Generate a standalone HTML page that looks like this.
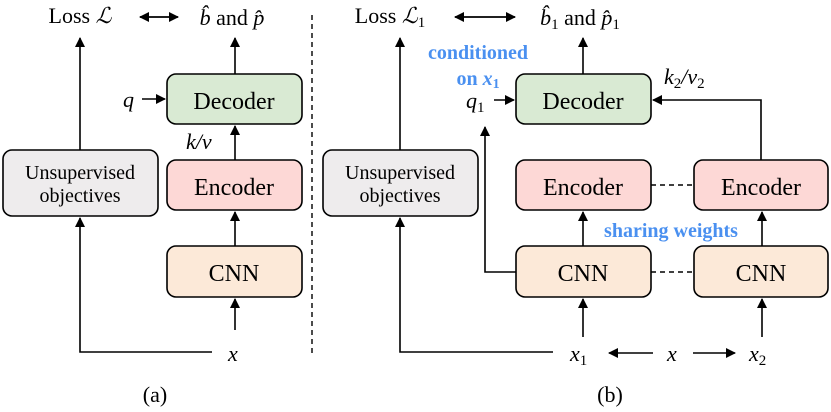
<!DOCTYPE html>
<html><head><meta charset="utf-8"><style>
html,body{margin:0;padding:0;background:#fff;width:831px;height:412px;overflow:hidden}
svg{display:block}
text{font-family:"Liberation Serif",serif;fill:#000}
.m{font-style:italic}
.b{font-weight:bold;fill:#4a90f0}
</style></head><body>
<svg width="831" height="412" viewBox="0 0 831 412" xmlns="http://www.w3.org/2000/svg">
<defs><marker id="a" markerWidth="10" markerHeight="10" refX="9" refY="5" orient="auto" markerUnits="userSpaceOnUse"><path d="M0,0 L10,5 L0,10 z" fill="#000"/></marker></defs>
<g stroke="#000" stroke-width="1.6" fill="none">
<rect x="3" y="150" width="155" height="66" rx="9" fill="#eeeced"/>
<rect x="167" y="74" width="135" height="50" rx="9" fill="#d9ead3"/>
<rect x="167" y="160" width="135" height="50" rx="9" fill="#fdd8d6"/>
<rect x="167" y="246" width="135" height="51" rx="9" fill="#fce9d8"/>
<path d="M80,150 V38" marker-end="url(#a)"/>
<path d="M212,352 H80 V218" marker-end="url(#a)"/>
<path d="M235,330 V299" marker-end="url(#a)"/>
<path d="M235,246 V212" marker-end="url(#a)"/>
<path d="M235,160 V126" marker-end="url(#a)"/>
<path d="M235,74 V38" marker-end="url(#a)"/>
<path d="M142,99 H165" marker-end="url(#a)"/>
<path d="M140,17 H178" marker-end="url(#a)"/>
<path d="M178,17 H140" marker-end="url(#a)"/>
<path d="M312,15 V357" stroke-dasharray="5,4" stroke-width="1.4"/>
<rect x="323" y="150" width="155" height="66" rx="9" fill="#eeeced"/>
<rect x="516" y="74" width="135" height="50" rx="9" fill="#d9ead3"/>
<rect x="516" y="160" width="135" height="50" rx="9" fill="#fdd8d6"/>
<rect x="694" y="160" width="134" height="50" rx="9" fill="#fdd8d6"/>
<rect x="516" y="246" width="135" height="51" rx="9" fill="#fce9d8"/>
<rect x="694" y="246" width="134" height="51" rx="9" fill="#fce9d8"/>
<path d="M651,185 H694" stroke-dasharray="5,4" stroke-width="1.4"/>
<path d="M651,272 H694" stroke-dasharray="5,4" stroke-width="1.4"/>
<path d="M400,150 V38" marker-end="url(#a)"/>
<path d="M553,352 H400 V218" marker-end="url(#a)"/>
<path d="M583,337 V299" marker-end="url(#a)"/>
<path d="M762,337 V299" marker-end="url(#a)"/>
<path d="M583,246 V212" marker-end="url(#a)"/>
<path d="M762,246 V212" marker-end="url(#a)"/>
<path d="M583,74 V38" marker-end="url(#a)"/>
<path d="M516,272 H485 V127" marker-end="url(#a)"/>
<path d="M494,100 H514" marker-end="url(#a)"/>
<path d="M761,160 V100 H653" marker-end="url(#a)"/>
<path d="M455,17 H515" marker-end="url(#a)"/>
<path d="M515,17 H455" marker-end="url(#a)"/>
<path d="M653,353 H609" marker-end="url(#a)"/>
<path d="M693,353 H735" marker-end="url(#a)"/>
</g>
<g font-size="22" text-anchor="middle">
<text x="80" y="23">Loss <tspan class="m">ℒ</tspan></text>
<text x="232" y="25"><tspan class="m">b̂</tspan> and <tspan class="m">p̂</tspan></text>
<text x="390" y="23">Loss <tspan class="m">ℒ</tspan><tspan font-size="15" dy="4">1</tspan></text>
<text x="580" y="25"><tspan class="m">b̂</tspan><tspan font-size="15" dy="4">1</tspan><tspan dy="-4"> and </tspan><tspan class="m">p̂</tspan><tspan font-size="15" dy="4">1</tspan></text>
<text x="155" y="402">(a)</text>
<text x="610" y="402">(b)</text>
</g>
<g font-size="24" text-anchor="middle">
<text x="234" y="109">Decoder</text>
<text x="234" y="195">Encoder</text>
<text x="234" y="281">CNN</text>
<text x="583" y="109">Decoder</text>
<text x="583" y="195">Encoder</text>
<text x="761" y="195">Encoder</text>
<text x="583" y="281">CNN</text>
<text x="761" y="281">CNN</text>
</g>
<g font-size="20" text-anchor="middle">
<text x="80" y="179">Unsupervised</text>
<text x="80" y="202">objectives</text>
<text x="400" y="179">Unsupervised</text>
<text x="400" y="202">objectives</text>
</g>
<g font-size="22">
<text x="123" y="107" class="m">q</text>
<text x="186" y="149" class="m">k/v</text>
<text x="228" y="361" class="m">x</text>
<text x="466" y="108" class="m">q<tspan font-size="15" dy="4" font-style="normal">1</tspan></text>
<text x="664" y="84" class="m">k<tspan font-size="15" dy="4" font-style="normal">2</tspan><tspan dy="-4">/v</tspan><tspan font-size="15" dy="4" font-style="normal">2</tspan></text>
<text x="570" y="361" class="m">x<tspan font-size="15" dy="4" font-style="normal">1</tspan></text>
<text x="667" y="361" class="m">x</text>
<text x="749" y="361" class="m">x<tspan font-size="15" dy="4" font-style="normal">2</tspan></text>
</g>
<g font-size="20" text-anchor="middle">
<text x="478" y="59" class="b">conditioned</text>
<text x="478" y="85" class="b">on <tspan font-style="italic">x</tspan><tspan font-size="14" dy="3">1</tspan></text>
<text x="671" y="237" class="b">sharing weights</text>
</g>
</svg>
</body></html>
